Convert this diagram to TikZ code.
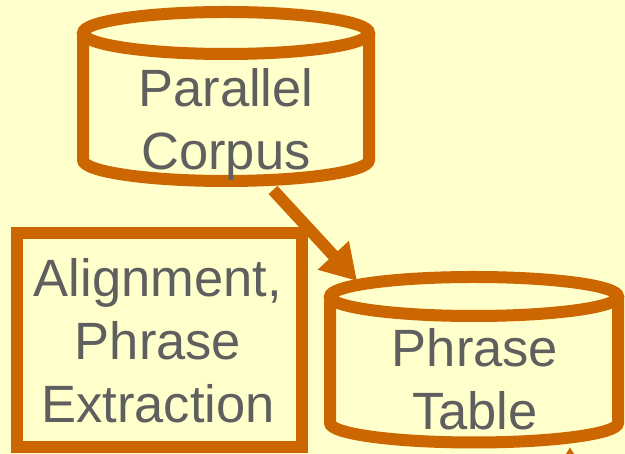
\documentclass[tikz,border=0pt]{standalone}
\usepackage{fontspec}
\setmainfont{Liberation Sans}
\usetikzlibrary{arrows.meta}
\definecolor{bgc}{HTML}{FFFFCC}
\definecolor{orng}{HTML}{CC6600}
\definecolor{txt}{HTML}{5F5F5F}
\tikzset{
  stroke/.style={draw=orng, line width=12pt},
  lbl/.style={anchor=base, align=center, text=txt, inner sep=0pt,
    font=\fontsize{52.5pt}{63pt}\selectfont},
  flow/.style={draw=orng, line width=12pt, -{Triangle[length=35pt,width=40pt]}}
}
\begin{document}
\begin{tikzpicture}[x=1pt,y=1pt]
\fill[bgc] (0,0) rectangle (625,454);
\useasboundingbox (0,0) rectangle (625,454);
\clip (0,0) rectangle (625,454);
% Parallel Corpus cylinder
\draw[stroke] (83,421) -- (83,294) arc[start angle=180, end angle=360, x radius=143pt, y radius=21pt] -- (369,421);
\draw[stroke] (226,421) ellipse [x radius=143pt, y radius=21pt];
\node[lbl] (pc) at (226,284) {Parallel\\Corpus};
% Phrase Table cylinder
\draw[stroke] (330,157.5) -- (330,31) arc[start angle=180, end angle=360, x radius=144pt, y radius=19.5pt] -- (618,157.5);
\draw[stroke] (474,157.5) ellipse [x radius=144pt, y radius=19.5pt];
\node[lbl] (pt) at (475,24) {Phrase\\Table};
% Alignment box
\draw[stroke] (16.5,6.5) rectangle (302,220.5);
\node[lbl] (ape) at (158,31) {Alignment,\\Phrase\\Extraction};
% arrows
\coordinate (pcout) at (273,264);
\coordinate (ptin) at (357,173);
\draw[flow] (pcout) -- (ptin);
\coordinate (below) at (570,-60);
\coordinate (ptbot) at (570,7);
\draw[flow] (below) -- (ptbot);
\end{tikzpicture}
\end{document}
